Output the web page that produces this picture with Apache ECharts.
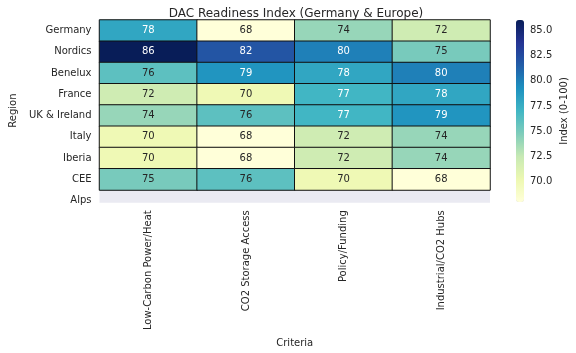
<!DOCTYPE html>
<html>
<head>
<meta charset="utf-8">
<script src="https://cdn.jsdelivr.net/npm/echarts@6/dist/echarts.min.js"></script>
<style>html,body{margin:0;padding:0;background:#fff}#c{width:576px;height:353px}</style>
</head>
<body>
<div id="c"></div>
<script>
var regions = ['Germany','Nordics','Benelux','France','UK & Ireland','Italy','Iberia','CEE','Alps'];
var criteria = ['Low-Carbon Power/Heat','CO2 Storage Access','Policy/Funding','Industrial/CO2 Hubs'];
var germany  = [78, 68, 74, 72];
var nordics  = [86, 82, 80, 75];
var benelux  = [76, 79, 78, 80];
var france   = [72, 70, 77, 78];
var ukIre    = [74, 76, 77, 79];
var italy    = [70, 68, 72, 74];
var iberia   = [70, 68, 72, 74];
var cee      = [75, 76, 70, 68];
var alps     = [null, null, null, null];
var colorbarTicks = [70, 72.5, 75, 77.5, 80, 82.5, 85];
var vMin = 68, vMax = 86;

var rows = [germany, nordics, benelux, france, ukIre, italy, iberia, cee, alps];
var cmap = ['#ffffd9','#edf8b1','#c7e9b4','#7fcdbb','#41b6c4','#1d91c0','#225ea8','#253494','#081d58'];

function hexToRgb(h){return [parseInt(h.slice(1,3),16),parseInt(h.slice(3,5),16),parseInt(h.slice(5,7),16)];}
function colorAt(v){
  var t = (v - vMin) / (vMax - vMin);
  t = Math.max(0, Math.min(1, t));
  var p = t * (cmap.length - 1);
  var i = Math.min(Math.floor(p), cmap.length - 2);
  var f = p - i;
  var a = hexToRgb(cmap[i]), b = hexToRgb(cmap[i+1]);
  return [a[0]+(b[0]-a[0])*f, a[1]+(b[1]-a[1])*f, a[2]+(b[2]-a[2])*f];
}
function lum(rgb){
  var c = rgb.map(function(x){x/=255;return x<=0.03928?x/12.92:Math.pow((x+0.055)/1.055,2.4);});
  return 0.2126*c[0]+0.7152*c[1]+0.0722*c[2];
}

var data = [];
rows.forEach(function(r, ri){
  r.forEach(function(v, ci){
    if (v === null) return;
    data.push({value:[ci, ri, v], label:{color: lum(colorAt(v)) > 0.408 ? '#262626' : '#ffffff'}});
  });
});

var FONT = 'DejaVu Sans';
var TXT = '#262626';
var rowH = 21.46;
var chart = echarts.init(document.getElementById('c'), null, {renderer:'canvas'});
chart.setOption({
  animation: false,
  backgroundColor: '#ffffff',
  textStyle: {fontFamily: FONT},
  title: {
    text: 'DAC Readiness Index (Germany & Europe)',
    left: 291, top: 3, textAlign: 'center',
    textStyle: {fontFamily: FONT, fontSize: 12, fontWeight: 'normal', color: TXT}
  },
  grid: [
    {left: 92, top: 20, width: 398, height: rowH * regions.length, show: true, backgroundColor: '#EAEAF2', borderWidth: 0},
    {left: 516, top: 20, width: 8, height: 182, show: false}
  ],
  xAxis: [
    {type: 'category', gridIndex: 0, data: criteria, position: 'bottom', z: 10,
     axisLine: {show: false}, axisTick: {show: false}, splitLine: {show: false},
     axisLabel: {rotate: 90, margin: -1, fontSize: 10, color: TXT, fontFamily: FONT, interval: 0},
     name: 'Criteria', nameLocation: 'middle', nameGap: 122,
     nameTextStyle: {fontSize: 10, color: TXT, fontFamily: FONT}},
    {type: 'value', gridIndex: 1, show: false, min: 0, max: 1}
  ],
  yAxis: [
    {type: 'category', gridIndex: 0, data: regions, inverse: true,
     axisLine: {show: false}, axisTick: {show: false}, splitLine: {show: false},
     axisLabel: {margin: 8, fontSize: 10, color: TXT, fontFamily: FONT, interval: 0},
     name: 'Region', nameLocation: 'middle', nameGap: 74, nameRotate: 90,
     nameTextStyle: {fontSize: 10, color: TXT, fontFamily: FONT, padding: [0, 0, 0, 10]}},
    {type: 'value', gridIndex: 1, min: vMin, max: vMax, position: 'right',
     axisLine: {show: false}, splitLine: {show: false},
     axisTick: {show: true, length: 3.5, lineStyle: {color: TXT, width: 1}, customValues: colorbarTicks},
     axisLabel: {show: true, margin: 6, fontSize: 10, color: TXT, fontFamily: FONT, customValues: colorbarTicks,
       formatter: function(v){return Number(v).toFixed(1);}},
     name: 'Index (0-100)', nameLocation: 'middle', nameGap: 35, nameRotate: 90,
     nameTextStyle: {fontSize: 10, color: TXT, fontFamily: FONT}}
  ],
  visualMap: {
    type: 'continuous', min: vMin, max: vMax, dimension: 2, seriesIndex: 0,
    calculable: false, orient: 'vertical', left: 516, top: 20, padding: 0,
    itemWidth: 8, itemHeight: 182, text: null, showLabel: false, hoverLink: false,
    inRange: {color: cmap}
  },
  graphic: [
    {type: 'rect', z: 1, shape: {x: 90, y: 202.7, width: 402, height: 12}, style: {fill: '#ffffff'}}
  ],
  series: [
    {type: 'heatmap', xAxisIndex: 0, yAxisIndex: 0, data: data,
     itemStyle: {borderColor: '#111111', borderWidth: 1},
     label: {show: true, fontSize: 10, fontFamily: FONT},
     emphasis: {disabled: true}},
    {type: 'scatter', xAxisIndex: 1, yAxisIndex: 1, data: [], silent: true}
  ]
});
</script>
</body>
</html>
